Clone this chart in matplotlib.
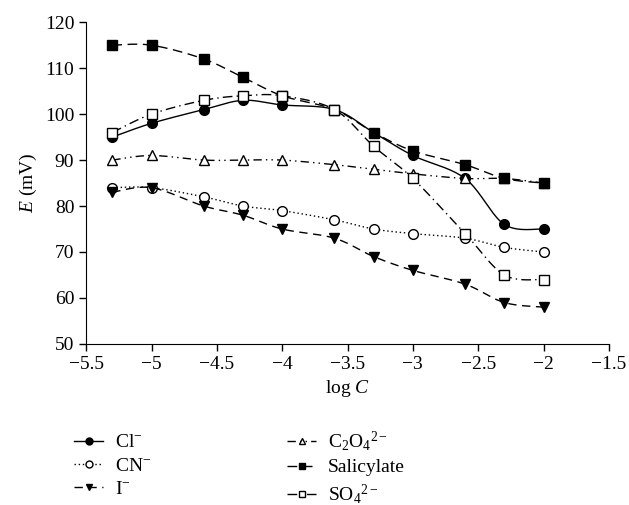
import numpy as np
import matplotlib
matplotlib.use("Agg")
import matplotlib.pyplot as plt

plt.rcParams['font.family'] = ['Liberation Serif', 'DejaVu Serif']
plt.rcParams['mathtext.fontset'] = 'custom'
plt.rcParams['mathtext.rm'] = 'Liberation Serif'
plt.rcParams['mathtext.it'] = 'Liberation Serif:italic'

# data
log_c = [-5.3, -5, -4.6, -4.3, -4, -3.6, -3.3, -3, -2.6, -2.3, -2]
cl = [95, 98, 101, 103, 102, 101, 96, 91, 86, 76, 75]
cn = [84, 84, 82, 80, 79, 77, 75, 74, 73, 71, 70]
iodide = [83, 84, 80, 78, 75, 73, 69, 66, 63, 59, 58]
c2o4 = [90, 91, 90, 90, 90, 89, 88, 87, 86, 86, 85]
salicylate = [115, 115, 112, 108, 104, 101, 96, 92, 89, 86, 85]
so4 = [96, 100, 103, 104, 104, 101, 93, 86, 74, 65, 64]


def smooth(x, y, n=20):
    # Catmull-Rom curve through the points (like a smoothed line in a spreadsheet)
    x = np.asarray(x, float)
    y = np.asarray(y, float)
    px = np.concatenate([[x[0]], x, [x[-1]]])
    py = np.concatenate([[y[0]], y, [y[-1]]])
    xs, ys = [], []
    for i in range(1, len(px) - 2):
        t = np.linspace(0, 1, n, endpoint=False)
        for p, out in ((px, xs), (py, ys)):
            p0, p1, p2, p3 = p[i - 1], p[i], p[i + 1], p[i + 2]
            out.extend(0.5 * (2 * p1 + (-p0 + p2) * t
                              + (2 * p0 - 5 * p1 + 4 * p2 - p3) * t ** 2
                              + (-p0 + 3 * p1 - 3 * p2 + p3) * t ** 3))
    xs.append(x[-1])
    ys.append(y[-1])
    return xs, ys


fig = plt.figure(figsize=(6.29, 5.05), dpi=100)
ax = fig.add_axes([0.137, 0.319, 0.831, 0.637])

series = [
    (cl, r'Cl$^{-}$', '-', 'o', 'black'),
    (cn, r'CN$^{-}$', (0, (1, 2)), 'o', 'white'),
    (iodide, r'I$^{-}$', (0, (6, 4)), 'v', 'black'),
    (c2o4, r'C$_2$O$_4$$^{2-}$', (0, (6, 3, 1, 3, 1, 3)), '^', 'white'),
    (salicylate, 'Salicylate', (0, (7, 4)), 's', 'black'),
    (so4, r'SO$_4$$^{2-}$', (0, (7, 3, 1, 3)), 's', 'white'),
]

for vals, label, ls, mk, fc in series:
    sx, sy = smooth(log_c, vals)
    ax.plot(sx, sy, color='black', linestyle=ls, linewidth=1.0)
    ax.plot(log_c, vals, linestyle='none', marker=mk, markersize=7,
            markerfacecolor=fc, markeredgecolor='black', markeredgewidth=1.0)
    ax.plot([], [], color='black', linestyle=ls, linewidth=1.0, marker=mk,
            markersize=5, markerfacecolor=fc, markeredgecolor='black',
            label=label)

ax.set_xlim(-5.5, -1.5)
ax.set_ylim(50, 120)
ax.set_xticks(np.arange(-5.5, -1.4, 0.5))
ax.set_xticklabels(['\u22125.5', '\u22125', '\u22124.5', '\u22124', '\u22123.5',
                    '\u22123', '\u22122.5', '\u22122', '\u22121.5'])
ax.set_yticks(range(50, 121, 10))
ax.spines['top'].set_visible(False)
ax.spines['right'].set_visible(False)
ax.tick_params(direction='out', length=5, width=1, labelsize=14)
ax.set_xlabel(r'log $\mathit{C}$', fontsize=14, labelpad=4)
ax.set_ylabel(r'$\mathit{E}$ (mV)', fontsize=14, labelpad=4)

handles, labels = ax.get_legend_handles_labels()
fig.legend(handles, labels, ncol=2, loc='upper left',
           bbox_to_anchor=(0.09, 0.185), frameon=False, fontsize=14,
           handlelength=1.5, columnspacing=7.0, labelspacing=0.3,
           handletextpad=0.6)

fig.savefig('out.png', dpi=100)
